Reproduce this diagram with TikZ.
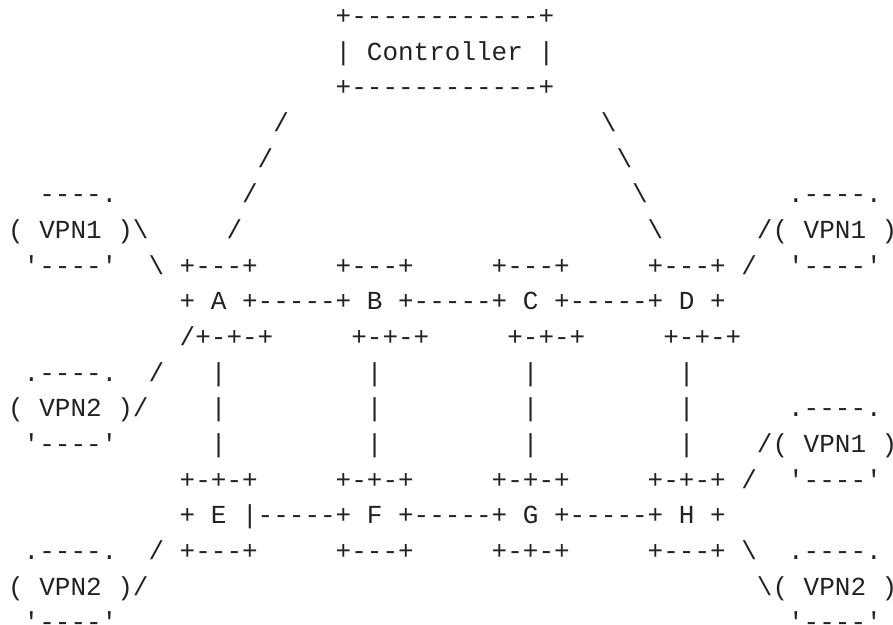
\documentclass[tikz,border=0pt]{standalone}
\usepackage{fontspec}
\setmonofont{Liberation Mono}
\usepackage{tikz}

\definecolor{ink}{HTML}{222222}
\tikzset{asc/.style={font=\ttfamily\fontsize{26pt}{30pt}\selectfont, text=ink, inner sep=0pt, anchor=base west}}

\begin{document}
\begin{tikzpicture}[x=15.6pt, y=-35.67pt]
        \useasboundingbox (0pt,0pt) rectangle (893pt,-624pt);
        \begin{scope}[shift={(7.9pt,11.3pt)}]
        % controller
        \node [asc] (ctrltop) at (21,1) {+------------+};
        \node [asc] (ctrl) at (21,2) {| Controller |};
        \node [asc] (ctrlbot) at (21,3) {+------------+};
        % links to the controller
        \node [asc] (la1) at (17,4) {/};
        \node [asc] (la2) at (16,5) {/};
        \node [asc] (la3) at (15,6) {/};
        \node [asc] (la4) at (14,7) {/};
        \node [asc] (ld1) at (38,4) {\textbackslash};
        \node [asc] (ld2) at (39,5) {\textbackslash};
        \node [asc] (ld3) at (40,6) {\textbackslash};
        \node [asc] (ld4) at (41,7) {\textbackslash};
        % vpn sites, left
        \node [asc] (va1top) at (2,6) {----.};
        \node [asc] (va1) at (0,7) {( VPN1 )\textbackslash};
        \node [asc] (va1bot) at (1,8) {'----'};
        \node [asc] (va1link) at (9,8) {\textbackslash};
        \node [asc] (va2link) at (11,10) {/};
        \node [asc] (va2top) at (1,11) {.----.};
        \node [asc] (va2slash) at (9,11) {/};
        \node [asc] (va2) at (0,12) {( VPN2 )/};
        \node [asc] (va2bot) at (1,13) {'----'};
        \node [asc] (ve2top) at (1,16) {.----.};
        \node [asc] (ve2link) at (9,16) {/};
        \node [asc] (ve2) at (0,17) {( VPN2 )/};
        \node [asc] (ve2bot) at (1,18) {'----'};
        % vpn sites, right
        \node [asc] (vd1top) at (50,6) {.----.};
        \node [asc] (vd1) at (48,7) {/( VPN1 )};
        \node [asc] (vd1link) at (47,8) {/};
        \node [asc] (vd1bot) at (50,8) {'----'};
        \node [asc] (vh1top) at (50,12) {.----.};
        \node [asc] (vh1) at (48,13) {/( VPN1 )};
        \node [asc] (vh1link) at (47,14) {/};
        \node [asc] (vh1bot) at (50,14) {'----'};
        \node [asc] (vh2link) at (47,16) {\textbackslash};
        \node [asc] (vh2top) at (50,16) {.----.};
        \node [asc] (vh2) at (48,17) {\textbackslash( VPN2 )};
        \node [asc] (vh2bot) at (50,18) {'----'};
        % upper row of routers
        \node [asc] (atop) at (11,8) {+---+};
        \node [asc] (btop) at (21,8) {+---+};
        \node [asc] (ctop) at (31,8) {+---+};
        \node [asc] (dtop) at (41,8) {+---+};
        \node [asc] (abcd) at (11,9) {+ A +-----+ B +-----+ C +-----+ D +};
        \node [asc] (abot) at (12,10) {+-+-+};
        \node [asc] (bbot) at (22,10) {+-+-+};
        \node [asc] (cbot) at (32,10) {+-+-+};
        \node [asc] (dbot) at (42,10) {+-+-+};
        % vertical links
        \foreach \c in {13,23,33,43} {
          \foreach \r in {11,12,13} {
            \node [asc] (bar\c-\r) at (\c,\r) {|};
          }
        }
        % lower row of routers
        \node [asc] (etop) at (11,14) {+-+-+};
        \node [asc] (ftop) at (21,14) {+-+-+};
        \node [asc] (gtop) at (31,14) {+-+-+};
        \node [asc] (htop) at (41,14) {+-+-+};
        \node [asc] (efgh) at (11,15) {+ E |-----+ F +-----+ G +-----+ H +};
        \node [asc] (ebot) at (11,16) {+---+};
        \node [asc] (fbot) at (21,16) {+---+};
        \node [asc] (gbot) at (31,16) {+-+-+};
        \node [asc] (hbot) at (41,16) {+---+};
        \end{scope}
\end{tikzpicture}
\end{document}
